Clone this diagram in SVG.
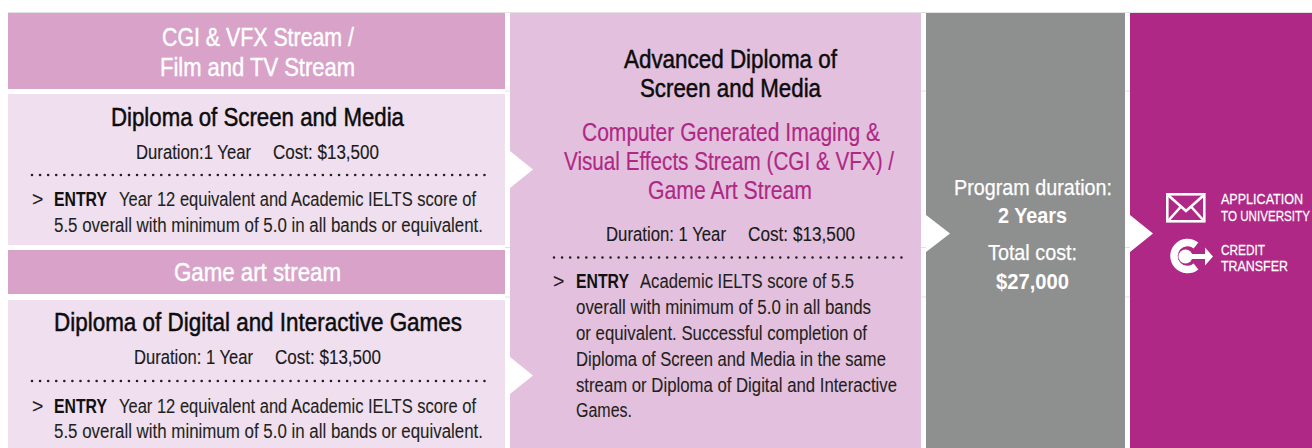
<svg xmlns="http://www.w3.org/2000/svg" width="1312" height="448" viewBox="0 0 1312 448">
<style>
text{font-family:"Liberation Sans",Arial,sans-serif;fill:#231f20}
.hd{fill:#d8a2c9}.lt{fill:#efdfef}.mid{fill:#e3c1de}.gr{fill:#8e908f}.mg{fill:#b02885}
.h{font-size:26px;fill:#fff;stroke:#fff;stroke-width:.45px}
.t{font-size:26px;fill:#0c0c0c;stroke:#0c0c0c;stroke-width:.5px}
.s{font-size:26px;fill:#b02885;stroke:#b02885;stroke-width:.2px}
.d{font-size:20.5px;fill:#1a1a1a;stroke:#1a1a1a;stroke-width:.15px}
.b{font-size:19.5px;stroke:#231f20;stroke-width:.1px}
.e{font-size:19.5px;font-weight:700;fill:#111}
.w{font-size:22.5px;fill:#fff;stroke:#fff;stroke-width:.25px}
.wb{font-size:22.5px;fill:#fff;font-weight:700}
.c{font-size:15.5px;fill:#fff;stroke:#fff;stroke-width:.25px}
.dots{stroke:#231f20;stroke-width:2.6;stroke-linecap:round;stroke-dasharray:0 8.08;fill:none}
.arrow{fill:#fff}
.hair{stroke:#e2e2e2;stroke-width:1;fill:none}
.ico{fill:none;stroke:#fff}
</style>
<rect width="1312" height="448" fill="#fff"/>
<path class="hair" d="M8 12.500H1312M505 91H510M921 91H926M1125 91H1130M505 247.500H510M921 247.500H926M1125 247.500H1130M505 297H510M921 297H926M1125 297H1130"/>
<g id="stream-cgi">
<rect class="hd" x="8" y="13" width="497" height="76"/>
<text class="h" x="162" y="46" textLength="192" lengthAdjust="spacingAndGlyphs">CGI &amp; VFX Stream /</text>
<text class="h" x="160" y="76" textLength="195" lengthAdjust="spacingAndGlyphs">Film and TV Stream</text>
</g>
<g id="diploma-screen">
<rect class="lt" x="8" y="94" width="497" height="151"/>
<text class="t" x="111" y="126" textLength="293" lengthAdjust="spacingAndGlyphs">Diploma of Screen and Media</text>
<text class="d" x="136" y="159" textLength="115" lengthAdjust="spacingAndGlyphs">Duration:1 Year</text>
<text class="d" x="273" y="159" textLength="106" lengthAdjust="spacingAndGlyphs">Cost: $13,500</text>
<path class="dots" d="M32 175H487"/>
<text class="b" x="32" y="206">&gt;</text>
<text class="e" x="54" y="206" textLength="53" lengthAdjust="spacingAndGlyphs">ENTRY</text>
<text class="b" x="119" y="206" textLength="357" lengthAdjust="spacingAndGlyphs">Year 12 equivalent and Academic IELTS score of</text>
<text class="b" x="54" y="232" textLength="429" lengthAdjust="spacingAndGlyphs">5.5 overall with minimum of 5.0 in all bands or equivalent.</text>
</g>
<g id="stream-game">
<rect class="hd" x="8" y="250" width="497" height="44"/>
<text class="h" x="174" y="281" textLength="167" lengthAdjust="spacingAndGlyphs">Game art stream</text>
</g>
<g id="diploma-games">
<rect class="lt" x="8" y="300" width="497" height="148"/>
<text class="t" x="54" y="331" textLength="408" lengthAdjust="spacingAndGlyphs">Diploma of Digital and Interactive Games</text>
<text class="d" x="134" y="364" textLength="119" lengthAdjust="spacingAndGlyphs">Duration: 1 Year</text>
<text class="d" x="275" y="364" textLength="106" lengthAdjust="spacingAndGlyphs">Cost: $13,500</text>
<path class="dots" d="M32 381H487"/>
<text class="b" x="32" y="413">&gt;</text>
<text class="e" x="54" y="413" textLength="53" lengthAdjust="spacingAndGlyphs">ENTRY</text>
<text class="b" x="119" y="413" textLength="357" lengthAdjust="spacingAndGlyphs">Year 12 equivalent and Academic IELTS score of</text>
<text class="b" x="54" y="438" textLength="429" lengthAdjust="spacingAndGlyphs">5.5 overall with minimum of 5.0 in all bands or equivalent.</text>
</g>
<g id="advanced-diploma">
<rect class="mid" x="510" y="13" width="411" height="435"/>
<text class="t" x="624" y="68" textLength="213" lengthAdjust="spacingAndGlyphs">Advanced Diploma of</text>
<text class="t" x="640" y="97" textLength="181" lengthAdjust="spacingAndGlyphs">Screen and Media</text>
<text class="s" x="582" y="141" textLength="298" lengthAdjust="spacingAndGlyphs">Computer Generated Imaging &amp;</text>
<text class="s" x="564" y="170" textLength="330" lengthAdjust="spacingAndGlyphs">Visual Effects Stream (CGI &amp; VFX) /</text>
<text class="s" x="648" y="199" textLength="164" lengthAdjust="spacingAndGlyphs">Game Art Stream</text>
<text class="d" x="606" y="241" textLength="120" lengthAdjust="spacingAndGlyphs">Duration: 1 Year</text>
<text class="d" x="748" y="241" textLength="107" lengthAdjust="spacingAndGlyphs">Cost: $13,500</text>
<path class="dots" d="M554 257.500H909"/>
<text class="b" x="553" y="288">&gt;</text>
<text class="e" x="576" y="288" textLength="53" lengthAdjust="spacingAndGlyphs">ENTRY</text>
<text class="b" x="640" y="288" textLength="214" lengthAdjust="spacingAndGlyphs">Academic IELTS score of 5.5</text>
<text class="b" x="576" y="314" textLength="295" lengthAdjust="spacingAndGlyphs">overall with minimum of 5.0 in all bands</text>
<text class="b" x="576" y="340" textLength="291" lengthAdjust="spacingAndGlyphs">or equivalent. Successful completion of</text>
<text class="b" x="576" y="366" textLength="310" lengthAdjust="spacingAndGlyphs">Diploma of Screen and Media in the same</text>
<text class="b" x="576" y="392" textLength="321" lengthAdjust="spacingAndGlyphs">stream or Diploma of Digital and Interactive</text>
<text class="b" x="576" y="417" textLength="56" lengthAdjust="spacingAndGlyphs">Games.</text>
</g>
<g id="program-summary">
<rect class="gr" x="926" y="13" width="199" height="435"/>
<text class="w" x="954" y="195" textLength="158" lengthAdjust="spacingAndGlyphs">Program duration:</text>
<text class="wb" x="998" y="223" textLength="69" lengthAdjust="spacingAndGlyphs">2 Years</text>
<text class="w" x="988" y="260" textLength="89" lengthAdjust="spacingAndGlyphs">Total cost:</text>
<text class="wb" x="996" y="289" textLength="73" lengthAdjust="spacingAndGlyphs">$27,000</text>
</g>
<g id="outcomes">
<rect class="mg" x="1130" y="13" width="182" height="435"/>
<g id="icon-application" class="ico" stroke-width="2.600">
<rect x="1167.300" y="194.300" width="37" height="27"/>
<path d="M1168 195L1186 211L1204 195M1168 221L1181 206.500M1204 221L1191 206.500"/>
</g>
<g transform="translate(1221 0) scale(.76 1)">
<text class="c" x="0" y="204" textLength="108" lengthAdjust="spacingAndGlyphs">APPLICATION</text>
<text class="c" x="0" y="221" textLength="117" lengthAdjust="spacingAndGlyphs">TO UNIVERSITY</text>
<text class="c" x="0" y="255" textLength="58" lengthAdjust="spacingAndGlyphs">CREDIT</text>
<text class="c" x="0" y="271" textLength="88" lengthAdjust="spacingAndGlyphs">TRANSFER</text>
</g>
<g id="icon-credit">
<path class="ico" stroke-width="7.500" d="M1196 245.500A13.500 13.500 0 1 0 1196 266.500"/>
<circle cx="1185.500" cy="256.500" r="7" fill="#fff"/>
<path fill="#fff" d="M1186 254H1205V247.500L1213 256.500L1205 265.500V259H1186Z"/>
</g>
</g>
<g id="connectors">
<path class="arrow" d="M510 151L533 169.500L510 188Z"/>
<path class="arrow" d="M510 357L533 375.500L510 394Z"/>
<path class="arrow" d="M926 215L950 233.500L926 252Z"/>
<path class="arrow" d="M1130 215L1153 233.500L1130 252Z"/>
</g>
</svg>
